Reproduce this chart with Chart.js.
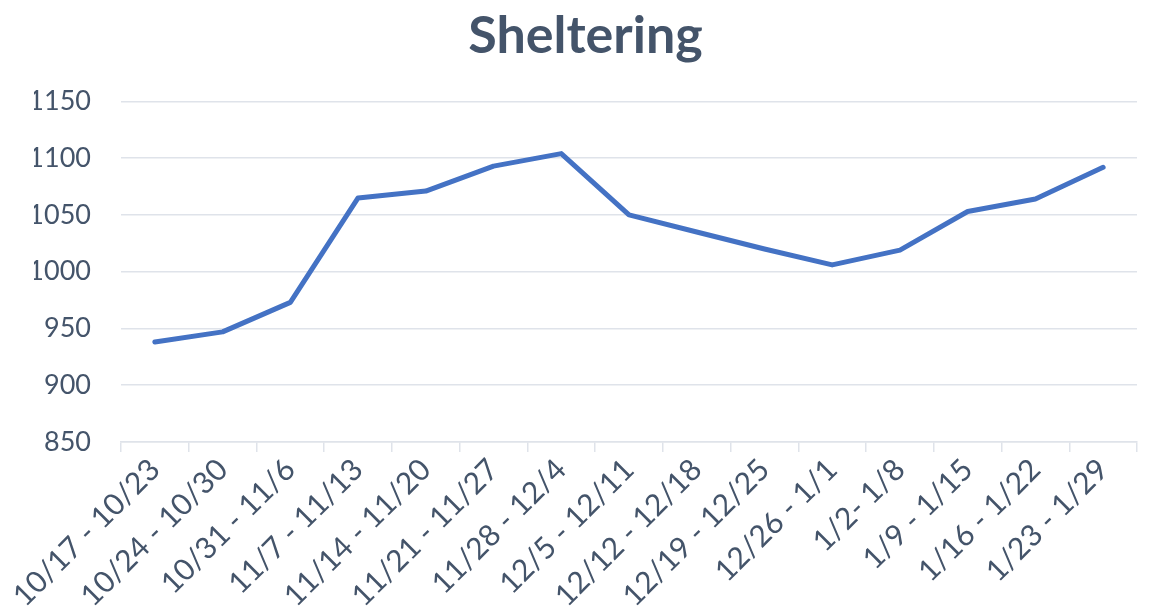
<!DOCTYPE html>
<html>
<head>
<meta charset="utf-8">
<title>Sheltering</title>
<script src="https://cdn.jsdelivr.net/npm/chart.js@4.4.1/dist/chart.umd.min.js"></script>
<style>
  html, body { margin: 0; padding: 0; background: #fff; }
  #wrap { width: 1153px; height: 610px; position: relative; }
</style>
</head>
<body>
<div id="wrap"><canvas id="chartSheltering"></canvas></div>
<script>
// weekly sheltering counts
const weekLabels = [
  '10/17 - 10/23', '10/24 - 10/30', '10/31 - 11/6', '11/7 - 11/13',
  '11/14 - 11/20', '11/21 - 11/27', '11/28 - 12/4', '12/5 - 12/11',
  '12/12 - 12/18', '12/19 - 12/25', '12/26 - 1/1', '1/2- 1/8',
  '1/9 - 1/15', '1/16 - 1/22', '1/23 - 1/29'
];
const shelteringCounts = [938, 947, 973, 1065, 1071, 1093, 1104, 1050, 1035, 1020, 1006, 1019, 1053, 1064, 1092];
const yMin  = 850;
const yMax  = 1150;
const yStep = 50;

const TEXT_COLOR = '#44546A';
const GRID_COLOR = '#DFE3EA';
const LINE_COLOR = '#4472C4';
const FONT = 'Lato, "Open Sans", sans-serif';

new Chart(document.getElementById('chartSheltering').getContext('2d'), {
  type: 'line',
  data: {
    labels: weekLabels,
    datasets: [{
      label: 'Sheltering',
      data: shelteringCounts,
      borderColor: LINE_COLOR,
      borderWidth: 5,
      borderCapStyle: 'round',
      borderJoinStyle: 'round',
      pointRadius: 0,
      tension: 0,
      fill: false
    }]
  },
  options: {
    responsive: true,
    maintainAspectRatio: false,
    animation: false,
    // left padding is a bit larger so the title sits where it does in the original
    layout: { padding: { left: 34, right: 16, top: 0, bottom: 0 } },
    scales: {
      x: {
        offset: true,
        grid: { offset: true, drawOnChartArea: false, drawTicks: true, tickLength: 10, color: GRID_COLOR, lineWidth: 1.5 },
        border: { display: true, color: GRID_COLOR, width: 1.5 },
        ticks: {
          autoSkip: false, minRotation: 45, maxRotation: 45,
          color: TEXT_COLOR, font: { family: FONT, size: 30 }, padding: 0
        },
        afterFit: s => { s.height = 168; }
      },
      y: {
        min: yMin, max: yMax,
        grid: { drawTicks: false, color: GRID_COLOR, lineWidth: 1.5 },
        border: { display: false },
        ticks: {
          stepSize: yStep, color: TEXT_COLOR, font: { family: FONT, size: 27 }, padding: 30,
          callback: v => String(v)
        },
        afterFit: s => { s.width = 87; }
      }
    },
    plugins: {
      legend: { display: false },
      tooltip: { enabled: false },
      title: {
        display: true,
        text: 'Sheltering',
        color: TEXT_COLOR,
        font: { family: FONT, size: 52, weight: 'bold' },
        padding: { top: 5, bottom: 34 }
      }
    }
  }
});
</script>
</body>
</html>
